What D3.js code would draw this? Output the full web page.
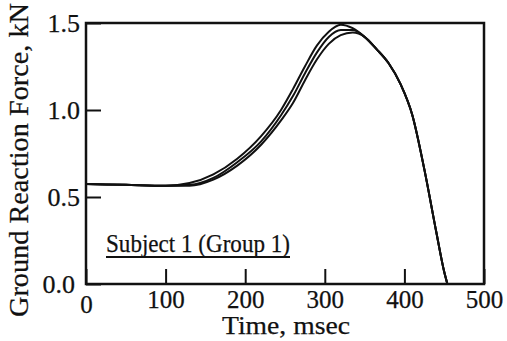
<!DOCTYPE html>
<html>
<head>
<meta charset="utf-8">
<script src="https://cdn.jsdelivr.net/npm/d3@7"></script>
<style>
  body { margin: 0; background: #fff; }
  text { font-family: "Liberation Serif", "Times New Roman", serif; fill: #111; stroke: #111; stroke-width: 0.25px; }
</style>
</head>
<body>
<div id="chart"></div>
<script>
// time (msec) sample points, shared by the three trials
var times = [0, 50, 100, 130, 160, 190, 220, 245, 260, 275, 290, 305, 320, 335, 350, 365, 380, 395, 410, 425, 440, 450, 454];

// ground reaction force (kN) for the three trials
var trial1 = [0.575, 0.57, 0.565, 0.58, 0.63, 0.72, 0.85, 1.0, 1.12, 1.25, 1.37, 1.45, 1.49, 1.47, 1.42, 1.35, 1.27, 1.15, 0.97, 0.66, 0.30, 0.07, 0];
var trial2 = [0.575, 0.57, 0.565, 0.57, 0.61, 0.70, 0.82, 0.97, 1.08, 1.21, 1.33, 1.42, 1.46, 1.46, 1.42, 1.35, 1.27, 1.15, 0.97, 0.66, 0.30, 0.07, 0];
var trial3 = [0.575, 0.57, 0.565, 0.565, 0.60, 0.68, 0.80, 0.94, 1.04, 1.17, 1.29, 1.38, 1.43, 1.445, 1.42, 1.35, 1.27, 1.15, 0.97, 0.66, 0.30, 0.07, 0];

var xTicks = [0, 100, 200, 300, 400, 500];
var yTicks = [0, 0.5, 1.0, 1.5];

var width = 507,
  height = 341;

var svg = d3.select("#chart")
  .append("svg")
  .attr("width", width)
  .attr("height", height);

var x = d3.scaleLinear().domain([0, 500]).range([86, 484]);
var y = d3.scaleLinear().domain([0, 1.5]).range([284, 23]);

// x axis, ticks pointing in
var xAxis = svg.append("g")
  .attr("transform", "translate(0," + y(0) + ")")
  .call(d3.axisBottom(x).tickValues(xTicks).tickSize(-15).tickPadding(6).tickFormat(d3.format("d")));

xAxis.select(".domain").remove();
xAxis.selectAll("line").attr("stroke", "#111").attr("stroke-width", 2);
xAxis.selectAll("text")
  .style("font-size", "25px")
  .style("font-family", '"Liberation Serif", serif')
  .attr("fill", "#111")
  .attr("dy", function(d) { return d === 0 ? "0.91em" : "0.71em"; });

// y axis
var yAxis = svg.append("g")
  .attr("transform", "translate(" + x(0) + ",0)")
  .call(d3.axisLeft(y).tickValues(yTicks).tickSize(-15).tickPadding(6).tickFormat(d3.format(".1f")));

yAxis.select(".domain").remove();
yAxis.selectAll("line").attr("stroke", "#111").attr("stroke-width", 2);
yAxis.selectAll("text")
  .style("font-size", "26px")
  .style("font-family", '"Liberation Serif", serif')
  .attr("fill", "#111")
  .attr("dx", function(d) { return d === 0 ? -5 : 0; });

// frame
svg.append("rect")
  .attr("x", x(0))
  .attr("y", y(1.5))
  .attr("width", x(500) - x(0))
  .attr("height", y(0) - y(1.5))
  .attr("fill", "none")
  .attr("stroke", "#111")
  .attr("stroke-width", 2.5);

var line = d3.line()
  .x(function(d, i) { return x(times[i]); })
  .y(function(d) { return y(d); })
  .curve(d3.curveMonotoneX);

[trial1, trial2, trial3].forEach(function(s) {
  svg.append("path")
    .datum(s)
    .attr("d", line)
    .attr("fill", "none")
    .attr("stroke", "#111")
    .attr("stroke-width", 2);
});

// titles
svg.append("text")
  .attr("x", 286)
  .attr("y", 334)
  .attr("text-anchor", "middle")
  .attr("textLength", 128)
  .attr("lengthAdjust", "spacingAndGlyphs")
  .style("font-size", "26px")
  .text("Time, msec");

svg.append("text")
  .attr("transform", "translate(28,160) rotate(-90)")
  .attr("text-anchor", "middle")
  .attr("textLength", 314)
  .attr("lengthAdjust", "spacingAndGlyphs")
  .style("font-size", "27px")
  .text("Ground Reaction Force, kN");

svg.append("text")
  .attr("x", 106)
  .attr("y", 252)
  .attr("textLength", 184)
  .attr("lengthAdjust", "spacingAndGlyphs")
  .style("font-size", "25px")
  .text("Subject 1 (Group 1)");

svg.append("line")
  .attr("x1", 106)
  .attr("x2", 290)
  .attr("y1", 257)
  .attr("y2", 257)
  .attr("stroke", "#111")
  .attr("stroke-width", 2);
</script>
</body>
</html>
